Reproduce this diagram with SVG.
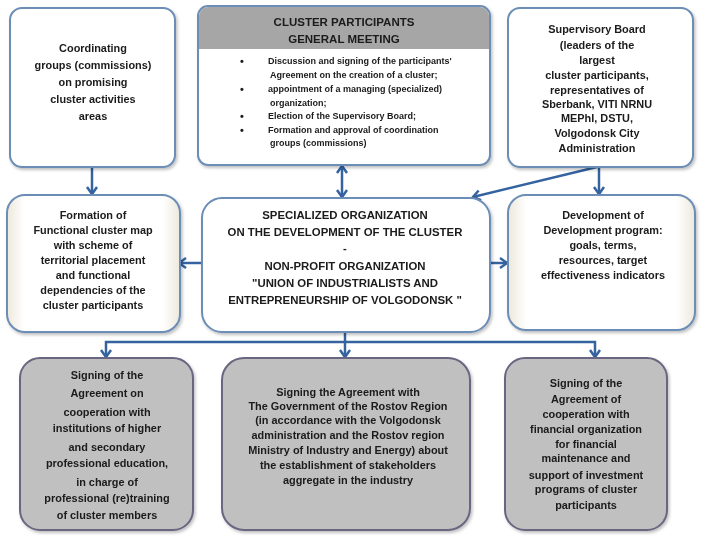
<svg xmlns="http://www.w3.org/2000/svg" width="704" height="538" viewBox="0 0 704 538">
<defs>
<style>
text{font-family:"Liberation Sans",Arial,sans-serif;font-weight:bold;fill:#1a1a1a;}
.t{font-size:10.9px;text-anchor:middle;}
.c{font-size:11.4px;text-anchor:middle;}
.b{font-size:9px;}
.d{font-size:11px;}
.h{font-size:11.5px;text-anchor:middle;}
.wb{fill:#ffffff;stroke:#6c8db5;stroke-width:2;}
.bg{fill:url(#beige);stroke:#6c8db5;stroke-width:2;}
.gr{fill:#c0c0c0;stroke:#6b6580;stroke-width:2;}
.ln{fill:none;stroke:#3463a0;stroke-width:2.5;}
</style>
<linearGradient id="beige" x1="0" y1="0" x2="1" y2="0">
<stop offset="0" stop-color="#ece8dc"/>
<stop offset="0.1" stop-color="#ffffff"/>
<stop offset="0.9" stop-color="#ffffff"/>
<stop offset="1" stop-color="#ece8dc"/>
</linearGradient>
<filter id="sh" x="-10%" y="-10%" width="120%" height="120%">
<feDropShadow dx="1.5" dy="2" stdDeviation="1.5" flood-color="#000" flood-opacity="0.25"/>
</filter>
<marker id="ar" markerUnits="userSpaceOnUse" markerWidth="14" markerHeight="14" refX="9" refY="7" orient="auto-start-reverse">
<path d="M2,2 L9,7 L2,12" fill="none" stroke="#3463a0" stroke-width="2.5"/>
</marker>
</defs>

<g id="connectors">
<path class="ln" d="M92,167 V194" marker-end="url(#ar)"/>
<path class="ln" d="M342,166 V197" marker-start="url(#ar)" marker-end="url(#ar)"/>
<path class="ln" d="M599,167 V194" marker-end="url(#ar)"/>
<path class="ln" d="M597,167 L473,197" marker-end="url(#ar)"/>
<path class="ln" d="M202,263 H179" marker-end="url(#ar)"/>
<path class="ln" d="M490,263 H507" marker-end="url(#ar)"/>
<path class="ln" d="M345,332 V357" marker-end="url(#ar)"/>
<path class="ln" d="M106,357 V342 H595 V357" marker-start="url(#ar)" marker-end="url(#ar)"/>
</g>

<g id="coordinating-groups" filter="url(#sh)">
<rect class="wb" x="10" y="8" width="165" height="159" rx="12"/>
<text class="t" x="93" y="52">Coordinating</text>
<text class="t" x="93" y="69">groups (commissions)</text>
<text class="t" x="93" y="86">on promising</text>
<text class="t" x="93" y="103">cluster activities</text>
<text class="t" x="93" y="120">areas</text>
</g>

<g id="general-meeting" filter="url(#sh)">
<rect class="wb" x="198" y="6" width="292" height="159" rx="10"/>
<path d="M208,7 H480 A9,9 0 0 1 489,16 V49 H199 V16 A9,9 0 0 1 208,7 Z" fill="#a6a6a6"/>
<text class="h" x="344" y="26">CLUSTER PARTICIPANTS</text>
<text class="h" x="344" y="43">GENERAL MEETING</text>
<text class="d" x="240" y="65">•</text>
<text class="b" x="268" y="64">Discussion and signing of the participants'</text>
<text class="b" x="270" y="78">Agreement on the creation of a cluster;</text>
<text class="d" x="240" y="93">•</text>
<text class="b" x="268" y="92">appointment of a managing  (specialized)</text>
<text class="b" x="270" y="106">organization;</text>
<text class="d" x="240" y="120">•</text>
<text class="b" x="268" y="119">Election of the Supervisory Board;</text>
<text class="d" x="240" y="134">•</text>
<text class="b" x="268" y="133">Formation and approval  of coordination</text>
<text class="b" x="270" y="146">groups (commissions)</text>
</g>

<g id="supervisory-board" filter="url(#sh)">
<rect class="wb" x="508" y="8" width="185" height="159" rx="12"/>
<text class="t" x="597" y="33">Supervisory Board</text>
<text class="t" x="597" y="49">(leaders of the</text>
<text class="t" x="597" y="64">largest</text>
<text class="t" x="597" y="79">cluster participants,</text>
<text class="t" x="597" y="94">representatives of</text>
<text class="t" x="597" y="108">Sberbank, VITI NRNU</text>
<text class="t" x="597" y="122">MEPhI, DSTU,</text>
<text class="t" x="597" y="137">Volgodonsk City</text>
<text class="t" x="597" y="152">Administration</text>
</g>

<g id="cluster-map" filter="url(#sh)">
<rect class="bg" x="7" y="195" width="173" height="137" rx="18"/>
<text class="t" x="93" y="219">Formation of</text>
<text class="t" x="93" y="234">Functional cluster map</text>
<text class="t" x="93" y="249">with scheme of</text>
<text class="t" x="93" y="264">territorial placement</text>
<text class="t" x="93" y="279">and functional</text>
<text class="t" x="93" y="294">dependencies of the</text>
<text class="t" x="93" y="309">cluster participants</text>
</g>

<g id="specialized-organization" filter="url(#sh)">
<rect class="wb" x="202" y="198" width="288" height="134" rx="20"/>
<text class="c" x="345" y="219">SPECIALIZED ORGANIZATION</text>
<text class="c" x="345" y="236">ON THE DEVELOPMENT  OF THE CLUSTER</text>
<text class="c" x="345" y="252">-</text>
<text class="c" x="345" y="270">NON-PROFIT ORGANIZATION</text>
<text class="c" x="345" y="287">"UNION OF INDUSTRIALISTS AND</text>
<text class="c" x="345" y="304">ENTREPRENEURSHIP OF VOLGODONSK "</text>
</g>

<g id="development-program" filter="url(#sh)">
<rect class="bg" x="508" y="195" width="187" height="135" rx="18"/>
<text class="t" x="603" y="219">Development of</text>
<text class="t" x="603" y="234">Development program:</text>
<text class="t" x="603" y="249">goals, terms,</text>
<text class="t" x="603" y="264">resources, target</text>
<text class="t" x="603" y="279">effectiveness indicators</text>
</g>

<g id="education-agreement" filter="url(#sh)">
<rect class="gr" x="20" y="358" width="173" height="172" rx="20"/>
<text class="t" x="107" y="379">Signing of the</text>
<text class="t" x="107" y="397">Agreement on</text>
<text class="t" x="107" y="416">cooperation with</text>
<text class="t" x="107" y="432">institutions of higher</text>
<text class="t" x="107" y="451">and secondary</text>
<text class="t" x="107" y="467">professional education,</text>
<text class="t" x="107" y="486">in charge of</text>
<text class="t" x="107" y="502">professional (re)training</text>
<text class="t" x="107" y="519">of cluster members</text>
</g>

<g id="government-agreement" filter="url(#sh)">
<rect class="gr" x="222" y="358" width="248" height="172" rx="22"/>
<text class="t" x="348" y="396">Signing the Agreement with</text>
<text class="t" x="348" y="410">The Government of the Rostov Region</text>
<text class="t" x="348" y="424">(in accordance with the Volgodonsk</text>
<text class="t" x="348" y="439">administration and the Rostov region</text>
<text class="t" x="348" y="454">Ministry of Industry and Energy) about</text>
<text class="t" x="348" y="469">the establishment of stakeholders</text>
<text class="t" x="348" y="484">aggregate in the industry</text>
</g>

<g id="financial-agreement" filter="url(#sh)">
<rect class="gr" x="505" y="358" width="162" height="172" rx="20"/>
<text class="t" x="586" y="387">Signing of the</text>
<text class="t" x="586" y="403">Agreement of</text>
<text class="t" x="586" y="418">cooperation with</text>
<text class="t" x="586" y="433">financial organization</text>
<text class="t" x="586" y="448">for financial</text>
<text class="t" x="586" y="462">maintenance and</text>
<text class="t" x="586" y="479">support of investment</text>
<text class="t" x="586" y="493">programs of cluster</text>
<text class="t" x="586" y="509">participants</text>
</g>
</svg>
